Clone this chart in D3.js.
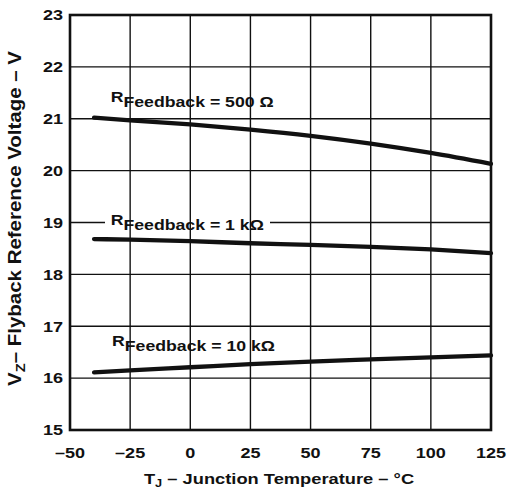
<!DOCTYPE html>
<html>
<head>
<meta charset="utf-8">
<script src="https://cdn.jsdelivr.net/npm/d3@7/dist/d3.min.js"></script>
<style>
  html, body { margin: 0; padding: 0; background: #fff; }
  svg { display: block; }
  text { font-family: "Liberation Sans", Arial, Helvetica, sans-serif; font-weight: bold; fill: #111; }
</style>
</head>
<body>
<svg id="chart" width="509" height="489"></svg>
<script>
// ---- data ----
const temps = [-40, -25, 0, 25, 50, 75, 100, 125];
const v500 = [21.02, 20.97, 20.89, 20.79, 20.67, 20.52, 20.34, 20.13];
const v1k  = [18.68, 18.67, 18.64, 18.60, 18.57, 18.53, 18.48, 18.41];
const v10k = [16.11, 16.15, 16.21, 16.27, 16.32, 16.36, 16.40, 16.44];
const seriesLabels = ["Feedback = 500 Ω", "Feedback = 1 kΩ", "Feedback = 10 kΩ"];
const xTicks = [-50, -25, 0, 25, 50, 75, 100, 125];
const yTicks = [15, 16, 17, 18, 19, 20, 21, 22, 23];
const xTickLabels = ["–50", "–25", "0", "25", "50", "75", "100", "125"];

// ---- layout ----
const svg = d3.select("#chart");
const x = d3.scaleLinear().domain([-50, 125]).range([70, 491]);
const y = d3.scaleLinear().domain([15, 23]).range([430, 15]);
const SX = 1.22; // horizontal stretch of the scanned lettering
const ink = "#111";

// horizontal grid
svg.append("g").selectAll("line").data(yTicks).join("line")
  .attr("x1", x(-50)).attr("x2", x(125))
  .attr("y1", d => y(d)).attr("y2", d => y(d))
  .attr("stroke", ink).attr("stroke-width", 1.4);

// white gap behind the 1 kΩ label on the 19 V grid line
svg.append("rect").attr("x", 105).attr("y", y(19) - 3.5)
  .attr("width", 165).attr("height", 7).attr("fill", "#fff");

// vertical grid
svg.append("g").selectAll("line").data(xTicks).join("line")
  .attr("x1", d => x(d)).attr("x2", d => x(d))
  .attr("y1", y(23)).attr("y2", y(15))
  .attr("stroke", ink).attr("stroke-width", 1.4);

// frame
svg.append("rect").attr("x", x(-50)).attr("y", y(23))
  .attr("width", x(125) - x(-50)).attr("height", y(15) - y(23))
  .attr("fill", "none").attr("stroke", ink).attr("stroke-width", 2.6);

// curves
const line = d3.line().x(d => x(d[0])).y(d => y(d[1])).curve(d3.curveMonotoneX);
[v500, v1k, v10k].forEach(vals => {
  svg.append("path").datum(temps.map((t, i) => [t, vals[i]]))
    .attr("d", line).attr("fill", "none")
    .attr("stroke", ink).attr("stroke-width", 4.3).attr("stroke-linecap", "round");
});

// y tick labels
svg.append("g").selectAll("text").data(yTicks).join("text")
  .attr("transform", d => `translate(63,${y(d) + 5.3}) scale(${SX},1)`)
  .attr("text-anchor", "end").attr("font-size", 14.8)
  .text(d => d);

// x tick labels
svg.append("g").selectAll("text").data(xTicks).join("text")
  .attr("transform", d => `translate(${x(d)},457.8) scale(${SX},1)`)
  .attr("text-anchor", "middle").attr("font-size", 14.8)
  .text((d, i) => xTickLabels[i]);

// x title
const xt = svg.append("text")
  .attr("transform", `translate(279,484) scale(${SX},1)`)
  .attr("text-anchor", "middle").attr("font-size", 15);
xt.append("tspan").text("T");
xt.append("tspan").attr("font-size", 10.5).attr("dy", 2.5).text("J");
xt.append("tspan").attr("dy", -2.5).text(" – Junction Temperature – °C");

// y title
const yt = svg.append("text")
  .attr("transform", "translate(21,218.5) rotate(-90)")
  .attr("text-anchor", "middle").attr("font-size", 18)
  .attr("textLength", 335).attr("lengthAdjust", "spacingAndGlyphs");
yt.append("tspan").text("V");
yt.append("tspan").attr("font-size", 13).attr("dy", 4).text("Z");
yt.append("tspan").attr("dy", -4).text("– Flyback Reference Voltage – V");

// series labels (positions in px)
const labelPos = [[110.7, 106.7], [110.7, 229.5], [112, 350.5]];
seriesLabels.forEach((lab, i) => {
  const t = svg.append("text")
    .attr("transform", `translate(${labelPos[i][0]},${labelPos[i][1]}) scale(${SX},1)`)
    .attr("font-size", 14.5);
  t.append("tspan").attr("dy", -5).text("R");
  t.append("tspan").attr("dy", 5).text(lab);
});
</script>
</body>
</html>
